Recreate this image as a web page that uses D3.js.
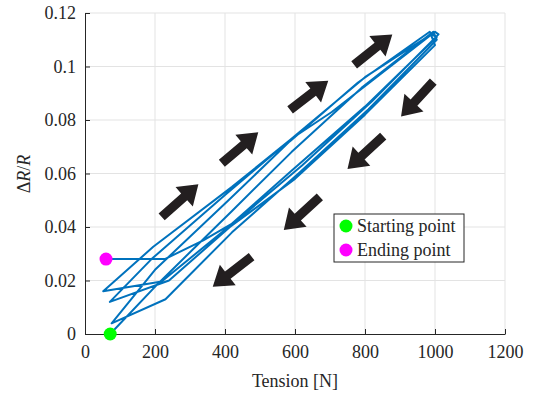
<!DOCTYPE html>
<html>
<head>
<meta charset="utf-8">
<script src="https://cdn.jsdelivr.net/npm/d3@7"></script>
<style>
  body { margin: 0; background: #fff; }
</style>
</head>
<body>
<div id="chart"></div>
<script>
const FONT = "'Liberation Serif'";

// tension [N] and dR/R along the measured path, cycle after cycle
let tension = [
    72, 210, 420, 590, 790, 995,
    1005, 810, 610, 420, 230, 76,
    200, 410, 585, 780, 985,
    1000, 800, 600, 414, 240, 71,
    190, 400, 590, 705, 990,
    1005, 800, 590, 400, 219, 52,
    195, 420, 590, 800, 1000,
    1010, 820, 620, 430, 338, 228, 60
];
let deltaR = [
    0.000, 0.019, 0.046, 0.068, 0.092, 0.113,
    0.110, 0.084, 0.060, 0.038, 0.013, 0.004,
    0.024, 0.050, 0.072, 0.094, 0.113,
    0.108, 0.082, 0.058, 0.040, 0.020, 0.012,
    0.028, 0.052, 0.073, 0.083, 0.112,
    0.111, 0.085, 0.061, 0.039, 0.0196, 0.016,
    0.0326, 0.055, 0.073, 0.096, 0.113,
    0.112, 0.087, 0.063, 0.042, 0.035, 0.028, 0.028
];

let xTicks = [0, 200, 400, 600, 800, 1000, 1200];
let yTicks = [0, 0.02, 0.04, 0.06, 0.08, 0.1, 0.12];

// direction arrows: [tailX, tailY, tipX, tipY] in data units
let upArrows = [
    [219, 0.0438, 324, 0.0560],
    [391, 0.0638, 495, 0.0754],
    [586, 0.0838, 695, 0.0947],
    [769, 0.1006, 878, 0.1120]
];
let downArrows = [
    [995, 0.0943, 903, 0.0813],
    [852, 0.0740, 750, 0.0617],
    [671, 0.0513, 568, 0.0389],
    [476, 0.0289, 365, 0.0177]
];

let markers = [
    { name: 'Starting point', x: 72, y: 0, color: '#00ff00' },
    { name: 'Ending point', x: 60, y: 0.028, color: '#ff00ff' }
];

let drawChart = function () {
    const w = 538, h = 394;
    const svg = d3.select('#chart').append('svg')
        .attr('width', w).attr('height', h);

    const x = d3.scaleLinear().domain([0, 1200]).range([85, 505]);
    const y = d3.scaleLinear().domain([0, 0.12]).range([334, 13]);

    // grid
    svg.append('g').selectAll('line')
        .data(xTicks.slice(1))
        .enter().append('line')
        .attr('x1', d => x(d)).attr('x2', d => x(d))
        .attr('y1', y(0)).attr('y2', y(0.12))
        .attr('stroke', '#e3e3e3').attr('stroke-width', 1);
    svg.append('g').selectAll('line')
        .data(yTicks.slice(1))
        .enter().append('line')
        .attr('x1', x(0)).attr('x2', x(1200))
        .attr('y1', d => y(d)).attr('y2', d => y(d))
        .attr('stroke', '#e3e3e3').attr('stroke-width', 1);

    // axes, ticks pointing inside
    const xAxis = svg.append('g')
        .attr('transform', `translate(0,${y(0)})`)
        .call(d3.axisBottom(x).tickValues(xTicks).tickSizeInner(-5).tickSizeOuter(0).tickPadding(11).tickFormat(d3.format('d')));
    const yAxis = svg.append('g')
        .attr('transform', `translate(${x(0)},0)`)
        .call(d3.axisLeft(y).tickValues(yTicks).tickSizeInner(-5).tickSizeOuter(0).tickPadding(9).tickFormat(d => d === 0 ? '0' : String(+d.toFixed(2))));
    [xAxis, yAxis].forEach(a => {
        a.selectAll('path, line').attr('stroke', '#262626');
        a.selectAll('text').attr('fill', '#262626')
            .style('font-family', FONT).style('font-size', '18px');
    });

    // the measured path
    const pts = tension.map((t, i) => [t, deltaR[i]]);
    svg.append('path')
        .datum(pts)
        .attr('d', d3.line().x(d => x(d[0])).y(d => y(d[1])))
        .attr('fill', 'none')
        .attr('stroke', '#0072bd')
        .attr('stroke-width', 2)
        .attr('stroke-linejoin', 'round');

    // arrows
    let arrowPath = function (a) {
        const x0 = x(a[0]), y0 = y(a[1]), x1 = x(a[2]), y1 = y(a[3]);
        const dx = x1 - x0, dy = y1 - y0;
        const len = Math.sqrt(dx * dx + dy * dy);
        const ux = dx / len, uy = dy / len, nx = -uy, ny = ux;
        const hl = 19, hw = 13, sw = 4.6;
        const bx = x1 - ux * hl, by = y1 - uy * hl;
        const p = [
            [x0 + nx * sw, y0 + ny * sw],
            [bx + nx * sw, by + ny * sw],
            [bx + nx * hw, by + ny * hw],
            [x1, y1],
            [bx - nx * hw, by - ny * hw],
            [bx - nx * sw, by - ny * sw],
            [x0 - nx * sw, y0 - ny * sw]
        ];
        return 'M' + p.map(q => q.join(',')).join('L') + 'Z';
    };
    svg.append('g').selectAll('path')
        .data(upArrows.concat(downArrows))
        .enter().append('path')
        .attr('d', arrowPath)
        .attr('fill', '#231f20');

    // start / end markers
    svg.append('g').selectAll('circle')
        .data(markers)
        .enter().append('circle')
        .attr('cx', d => x(d.x)).attr('cy', d => y(d.y))
        .attr('r', 6.5)
        .attr('fill', d => d.color);

    // legend
    const lg = svg.append('g').attr('transform', 'translate(334,214)');
    lg.append('rect')
        .attr('width', 130).attr('height', 48)
        .attr('fill', '#fff').attr('stroke', '#262626').attr('stroke-width', 1);
    markers.forEach((m, i) => {
        lg.append('circle').attr('cx', 12).attr('cy', 12 + i * 24).attr('r', 6.5).attr('fill', m.color);
        lg.append('text').attr('x', 23).attr('y', 12 + i * 24).attr('dy', '0.35em')
            .style('font-family', FONT).style('font-size', '18px')
            .attr('fill', '#262626').text(m.name);
    });

    // axis labels
    svg.append('text')
        .attr('x', (x(0) + x(1200)) / 2).attr('y', 387)
        .attr('text-anchor', 'middle')
        .style('font-family', FONT).style('font-size', '18px').attr('fill', '#262626')
        .text('Tension [N]');
    const yl = svg.append('text')
        .attr('transform', 'translate(30,174) rotate(-90)')
        .attr('text-anchor', 'middle')
        .style('font-family', FONT).style('font-size', '18px').attr('fill', '#262626');
    yl.append('tspan').text('\u0394');
    yl.append('tspan').attr('font-style', 'italic').text('R');
    yl.append('tspan').text('/');
    yl.append('tspan').attr('font-style', 'italic').text('R');
}

drawChart();
</script>
</body>
</html>
